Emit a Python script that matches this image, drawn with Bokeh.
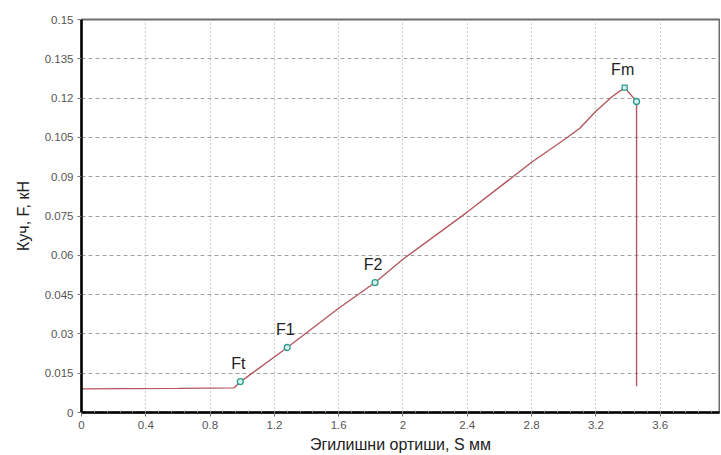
from bokeh.plotting import figure
from bokeh.models import FixedTicker, Range1d, ColumnDataSource
from bokeh.core.properties import value
from bokeh.embed import file_html
from bokeh.resources import INLINE

# Curve data (S in mm, F in kN)
s_vals = [0.0, 0.3, 0.6, 0.95, 0.99, 1.28, 1.6, 1.826, 2.0, 2.4, 2.8, 3.0, 3.1, 3.2, 3.3, 3.379, 3.453, 3.453]
f_vals = [0.0090, 0.0091, 0.0092, 0.0094, 0.0118, 0.0248, 0.0398, 0.0496, 0.0585, 0.0765, 0.0955, 0.1040, 0.1085, 0.1150, 0.1205, 0.1240, 0.1187, 0.0100]

# Marked points
pt_names = ["Ft", "F1", "F2", "Fm", ""]
pt_s = [0.988, 1.28, 1.826, 3.379, 3.453]
pt_f = [0.0118, 0.0248, 0.0496, 0.1240, 0.1187]

# Ticks
x_ticks = [0, 0.4, 0.8, 1.2, 1.6, 2.0, 2.4, 2.8, 3.2, 3.6, 4.0]
x_tick_labels = ["0", "0.4", "0.8", "1.2", "1.6", "2", "2.4", "2.8", "3.2", "3.6", "4"]
y_ticks = [0, 0.015, 0.03, 0.045, 0.06, 0.075, 0.09, 0.105, 0.12, 0.135, 0.15]
y_tick_labels = ["0", "0.015", "0.03", "0.045", "0.06", "0.075", "0.09", "0.105", "0.12", "0.135", "0.15"]

p = figure(width=720, height=455, output_backend="svg", toolbar_location=None,
           x_range=Range1d(0, 3.969), y_range=Range1d(0, 0.15),
           min_border_left=81, min_border_right=1, min_border_top=19, min_border_bottom=43)
p.background_fill_color = "white"
p.border_fill_color = "white"
p.outline_line_color = "#6e6e6e"
p.outline_line_width = 2

p.xaxis.ticker = FixedTicker(ticks=x_ticks, minor_ticks=[i * 0.08 for i in range(51)])
p.yaxis.ticker = FixedTicker(ticks=y_ticks)
p.xaxis.major_label_overrides = {t: l for t, l in zip(x_ticks, x_tick_labels)}
p.yaxis.major_label_overrides = {t: l for t, l in zip(y_ticks, y_tick_labels)}

for ax in (p.xaxis[0], p.yaxis[0]):
    ax.axis_line_color = "black"
    ax.axis_line_width = 2.5
    ax.major_tick_line_color = "#777777"
    ax.major_tick_in = 0
    ax.major_tick_out = 4
    ax.minor_tick_line_color = "#999999"
    ax.minor_tick_in = 2
    ax.minor_tick_out = 0
    ax.major_label_text_font = "Liberation Sans"
    ax.major_label_text_font_size = "11.5px"
    ax.major_label_text_color = "#555555"
    ax.axis_label_text_font = "Liberation Sans"
    ax.axis_label_text_font_size = "16px"
    ax.axis_label_text_font_style = "normal"
    ax.axis_label_text_color = "#222222"
p.yaxis.minor_tick_line_color = None

p.xaxis.axis_label = "Эгилишни ортиши, S мм"
p.yaxis.axis_label = "Куч, F, кН"
p.xaxis.axis_label_standoff = 4
p.yaxis.axis_label_standoff = 10
p.xaxis.major_label_standoff = 4
p.yaxis.major_label_standoff = 4

p.xgrid.grid_line_color = "#a0a0a0"
p.xgrid.grid_line_dash = "1 3"
p.xgrid.grid_line_width = 1.2
p.ygrid.grid_line_color = "#a0a0a0"
p.ygrid.grid_line_dash = "4 3"
p.ygrid.grid_line_width = 1

p.line(s_vals, f_vals, line_color="#b5575e", line_width=1.4)

p.scatter(pt_s[:3] + pt_s[4:], pt_f[:3] + pt_f[4:], marker="circle", size=6,
          line_color="#2a9d8f", fill_color="#d8f0ea", line_width=1.3)
p.scatter([pt_s[3]], [pt_f[3]], marker="square", size=5,
          line_color="#2a9d8f", fill_color="#d8f0ea", line_width=1.3)

src = ColumnDataSource(dict(x=pt_s[:4], y=pt_f[:4], t=pt_names[:4]))
p.text(x="x", y="y", text="t", source=src, text_font=value("Liberation Sans"),
       text_font_size="16px", text_color="#222222", text_align="center",
       text_baseline="bottom", x_offset=-2, y_offset=-10)

open("out.html", "w").write(file_html(p, INLINE))
